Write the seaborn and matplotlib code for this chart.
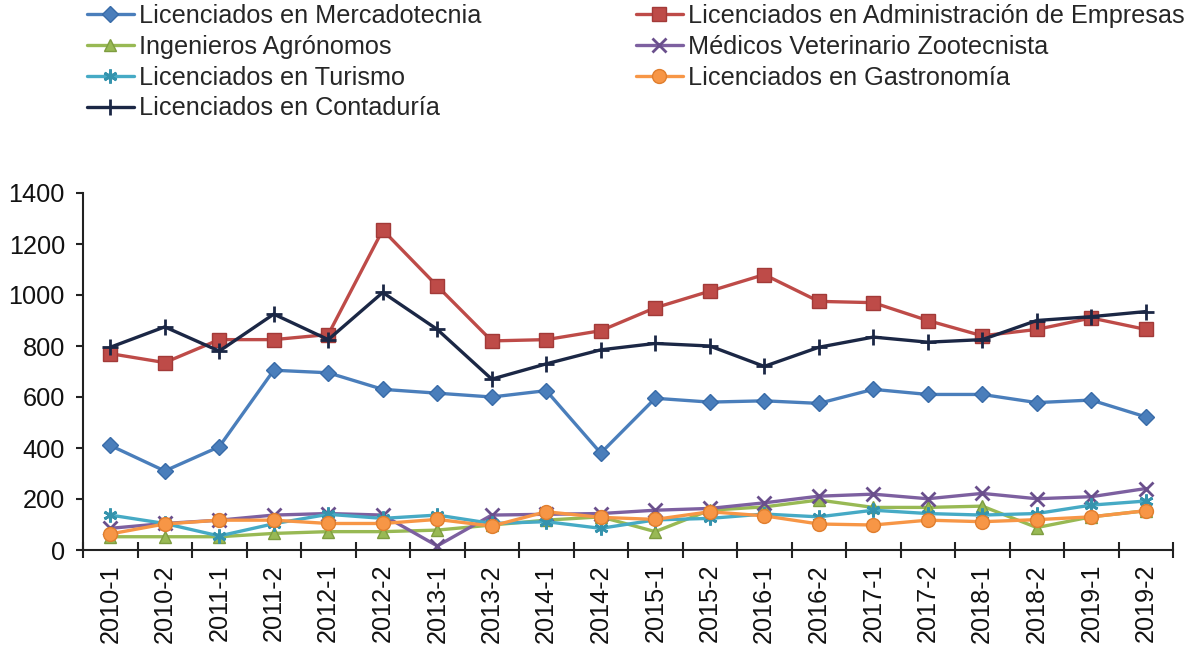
import numpy as np
import pandas as pd
import matplotlib
matplotlib.use("Agg")
import matplotlib.pyplot as plt
import seaborn as sns

# -----------------------------
# Data
# -----------------------------
periods = ["2010-1", "2010-2", "2011-1", "2011-2", "2012-1", "2012-2", "2013-1",
           "2013-2", "2014-1", "2014-2", "2015-1", "2015-2", "2016-1", "2016-2",
           "2017-1", "2017-2", "2018-1", "2018-2", "2019-1", "2019-2"]

mercadotecnia = [410, 310, 405, 705, 695, 630, 615, 600, 625, 380,
                 595, 580, 585, 575, 630, 610, 610, 578, 588, 522]
administracion = [770, 735, 825, 825, 845, 1255, 1035, 820, 825, 860,
                  950, 1015, 1080, 975, 970, 900, 840, 865, 910, 865]
agronomos = [52, 52, 52, 65, 72, 72, 78, 98, 117, 130,
             72, 156, 169, 196, 167, 167, 172, 88, 130, 154]
veterinarios = [85, 104, 117, 137, 143, 137, 16, 137, 140, 143,
                156, 163, 185, 211, 219, 201, 222, 201, 209, 241]
turismo = [137, 104, 55, 103, 140, 124, 137, 104, 111, 85,
           118, 124, 141, 130, 156, 143, 137, 143, 176, 192]
gastronomia = [63, 102, 117, 117, 104, 104, 120, 94, 150, 128,
               120, 150, 134, 102, 98, 117, 111, 119, 130, 154]
contaduria = [795, 875, 780, 925, 825, 1010, 865, 670, 730, 785,
              810, 800, 720, 795, 835, 815, 825, 900, 915, 935]

series_names = ["Licenciados en Mercadotecnia",
                "Licenciados en Administración de Empresas",
                "Ingenieros Agrónomos",
                "Médicos Veterinario Zootecnista",
                "Licenciados en Turismo",
                "Licenciados en Gastronomía",
                "Licenciados en Contaduría"]
series_values = [mercadotecnia, administracion, agronomos, veterinarios,
                 turismo, gastronomia, contaduria]

# -----------------------------
# Styles
# -----------------------------
colors = ["#4A7EBB", "#BE4B48", "#98B954", "#7D60A0", "#46AAC5", "#F79646", "#1B2745"]
edges = ["#386BA8", "#A23A38", "#7E9D40", "#6A4F8C", "#3593AD", "#E07E2E", "#1B2745"]
markers = ["D", "s", "^", "x", (6, 2, 0), "o", "+"]
msizes = [8, 10, 9, 10, 10, 10, 11]

sns.set_theme(style="white")
plt.rcParams["font.family"] = ["Liberation Sans", "DejaVu Sans"]

fig = plt.figure(figsize=(11.95, 6.49), dpi=100)
ax = fig.add_axes([83 / 1195, 1 - 550 / 649, (1173 - 83) / 1195, (550 - 193) / 649])

for name, vals, c, ec, m, ms in zip(series_names, series_values, colors, edges,
                                    markers, msizes):
    df = pd.DataFrame({"periodo": periods, "valor": vals})
    sns.lineplot(data=df, x="periodo", y="valor", color=c, marker=m,
                 markersize=ms, markeredgecolor=ec, markerfacecolor=c,
                 markeredgewidth=2 if m in ("x", "+", (6, 2, 0)) else 1,
                 linewidth=2.4, label=name, ax=ax, sort=False, legend=False)

# -----------------------------
# Axes formatting
# -----------------------------
ax.set_ylim(0, 1400)
ax.set_yticks(np.arange(0, 1401, 200))
ax.set_xlim(-0.5, len(periods) - 0.5)
ax.set_xticks(np.arange(len(periods)))
ax.set_xticklabels(periods, rotation=90)
ax.set_xticks(np.arange(-0.5, len(periods), 1), minor=True)
ax.set_xlabel("")
ax.set_ylabel("")

for side in ["top", "right"]:
    ax.spines[side].set_visible(False)
for side in ["left", "bottom"]:
    ax.spines[side].set_color("#222222")
    ax.spines[side].set_linewidth(1.5)

ax.tick_params(axis="y", which="major", direction="out", length=5, width=1.5,
               color="#222222", pad=8, labelsize=18.2, labelcolor="#111111", left=True)
ax.tick_params(axis="x", which="major", length=0, pad=10, labelsize=18.2,
               labelcolor="#111111")
ax.tick_params(axis="x", which="minor", direction="inout", length=12, width=1.5,
               color="#222222", bottom=True)
ax.grid(False)

# -----------------------------
# Legend (two columns, top)
# -----------------------------
handles = ax.get_lines()
legend_kw = dict(frameon=False, fontsize=18.2, handlelength=1.85, handletextpad=0.2,
                 labelspacing=0.27, borderaxespad=0, borderpad=0, loc="upper left")
left_idx = [0, 2, 4, 6]
right_idx = [1, 3, 5]
fig.legend([handles[i] for i in left_idx], [series_names[i] for i in left_idx],
           bbox_to_anchor=(87 / 1195, 1 - 4 / 649), **legend_kw)
fig.legend([handles[i] for i in right_idx], [series_names[i] for i in right_idx],
           bbox_to_anchor=(636 / 1195, 1 - 4 / 649), **legend_kw)

fig.savefig("out.png", dpi=100)
